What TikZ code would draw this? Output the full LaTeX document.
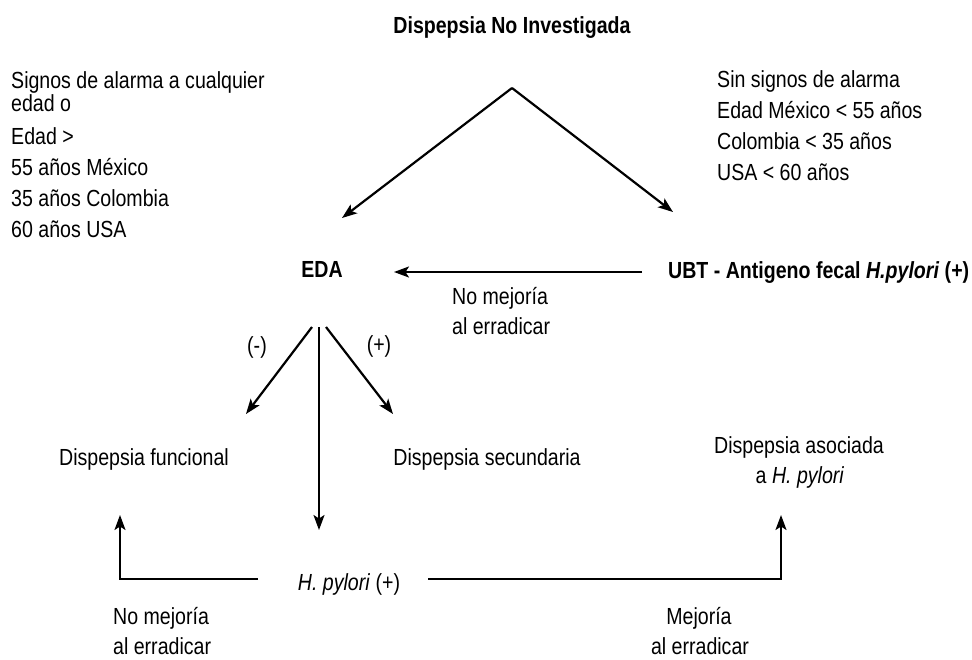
\documentclass[tikz,border=0pt]{standalone}
\usepackage{fontspec}
\setmainfont{Liberation Sans}[FakeStretch=0.84]
\usetikzlibrary{arrows.meta}
\begin{document}
\begin{tikzpicture}[x=1pt,y=-1pt,
  txt/.style={inner sep=0pt, font=\fontsize{23.3}{25}\selectfont},
  btxt/.style={inner sep=0pt, font=\fontsize{23.3}{25}\selectfont\bfseries},
  bl/.style={txt,anchor=base west},
  bc/.style={txt,anchor=base},
  arr/.style={line width=2.2pt,-{Stealth[length=15pt,width=11pt,inset=3.5pt]}},
  ln/.style={line width=2.2pt}]
\useasboundingbox (0,0) rectangle (972,659);

% title
\node[btxt,anchor=base] (title) at (512,33) {Dispepsia No Investigada};

% left criteria block
\node[bl] (l1) at (11,88) {Signos de alarma a cualquier};
\node[bl] (l2) at (11,111) {edad o};
\node[bl] (l3) at (11,144) {Edad >};
\node[bl] (l4) at (11,175) {55 años México};
\node[bl] (l5) at (11,206) {35 años Colombia};
\node[bl] (l6) at (11,237) {60 años USA};

% right criteria block
\node[bl] (r1) at (717,87) {Sin signos de alarma};
\node[bl] (r2) at (717,118) {Edad México < 55 años};
\node[bl] (r3) at (717,149) {Colombia < 35 años};
\node[bl] (r4) at (717,180) {USA < 60 años};

% chevron
\coordinate (apex) at (512,88);
\coordinate (ltip) at (342,218);
\coordinate (rtip) at (673,212);
\draw[arr] (apex) -- (ltip);
\draw[arr] (apex) -- (rtip);

% EDA and UBT
\node[btxt,anchor=base] (eda) at (322,277) {EDA};
\node[btxt,anchor=base west] (ubt) at (668,278) {UBT - Antigeno fecal \textit{H.pylori} (+)};
\coordinate (ubtend) at (642,272);
\coordinate (edaend) at (394,272);
\draw[arr] (ubtend) -- (edaend);
\node[bl] (m1) at (452,304) {No mejoría};
\node[bl] (m2) at (452,334) {al erradicar};

% branches from EDA
\coordinate (s1) at (312,327);
\coordinate (s2) at (319,327);
\coordinate (s3) at (326,327);
\coordinate (t1) at (246,414);
\coordinate (t2) at (319,530);
\coordinate (t3) at (393,414);
\draw[arr] (s1) -- (t1);
\draw[arr] (s2) -- (t2);
\draw[arr] (s3) -- (t3);
\node[txt] (neg) at (257,347) {(-)};
\node[txt] (pos) at (379,346) {(+)};

% outcomes
\node[bc] (func) at (144,465) {Dispepsia funcional};
\node[bc] (sec) at (487,465) {Dispepsia secundaria};
\node[bc] (aso1) at (799,453) {Dispepsia asociada};
\node[bc] (aso2) at (800,483) {a \textit{H. pylori}};

% H. pylori (+)
\node[bc] (hp) at (349,590) {\textit{H. pylori} (+)};
\coordinate (hpl) at (258,579);
\coordinate (hpr) at (428,579);
\coordinate (lc) at (120,579);
\coordinate (lup) at (120,515);
\coordinate (rc) at (781,579);
\coordinate (rup) at (781,515);
\draw[arr] (hpl) -- (lc) -- (lup);
\draw[arr] (hpr) -- (rc) -- (rup);

% bottom labels
\node[bl] (b1) at (113,624) {No mejoría};
\node[bl] (b2) at (113,654) {al erradicar};
\node[bc] (b3) at (699,624) {Mejoría};
\node[bc] (b4) at (700,654) {al erradicar};
\end{tikzpicture}
\end{document}
